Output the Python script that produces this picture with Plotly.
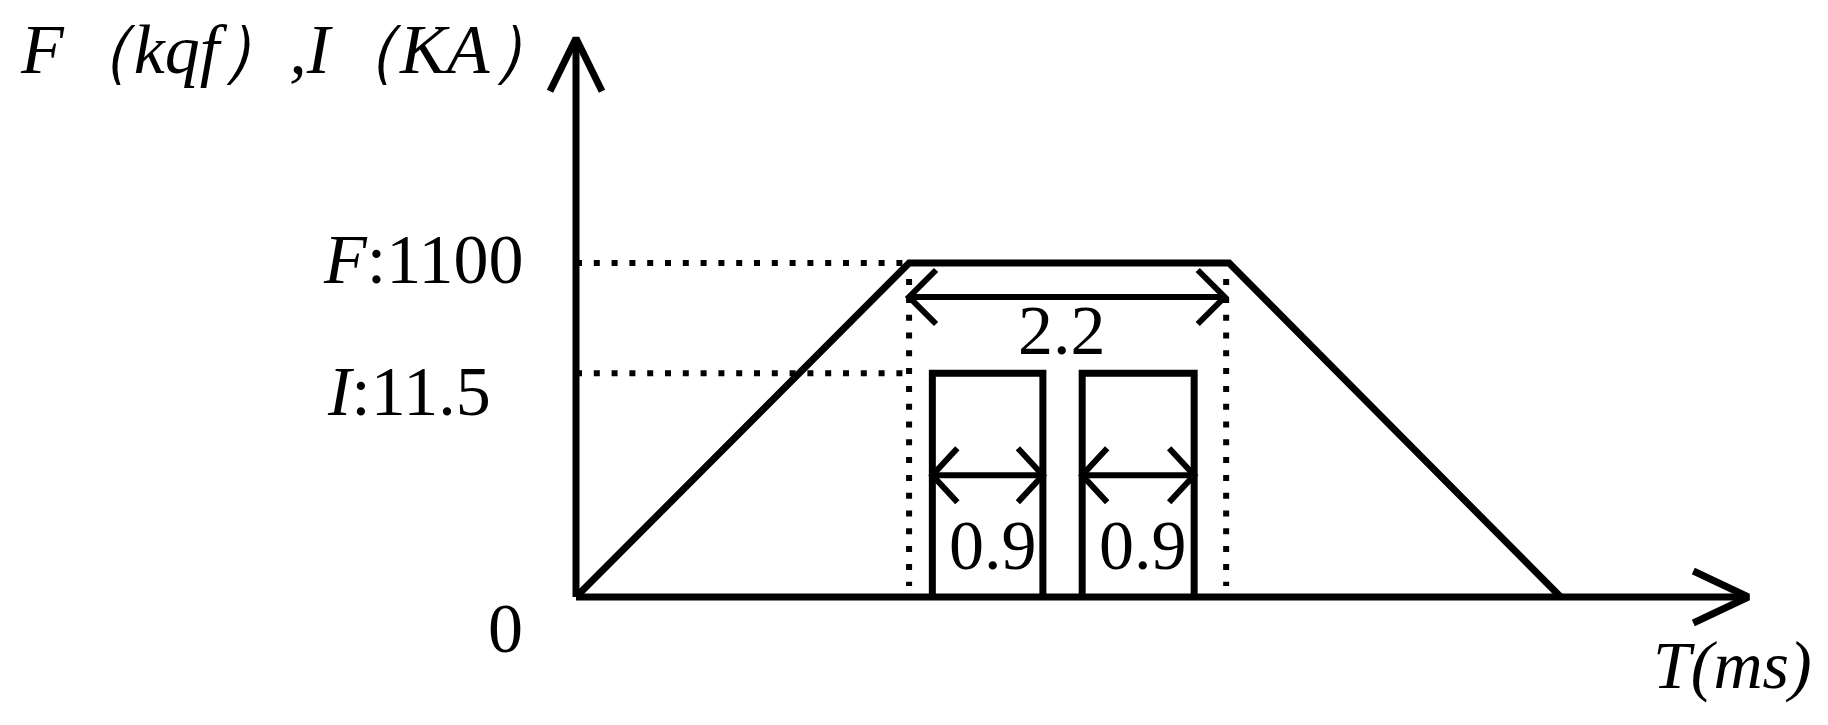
import plotly.graph_objects as go

# force profile: time (ms) vs force (kgf)
force_t = [0, 2.29, 4.49, 6.77]
force_kgf = [0, 1100, 1100, 0]

# current pulses (KA)
pulse_start = [2.45, 3.48]
pulse_end = [3.21, 4.25]
pulse_ka = 11.5

# guide / dimension values
f_level = 1100
i_level = 11.5
guide_t = [2.29, 4.47]
guide_f = [1047, 36]
span_t = [2.29, 4.46]
span_f = 988
pulse_dim_ka = 6.26
plateau_text = "2.2"
pulse_text = "0.9"

axis_t_end = 8.06
axis_f_end = 1840

# pixel mapping of the canvas (page has an 8px body margin)
PAGE_W, PAGE_H = 1828, 725
PAD = 8
W, H = PAGE_W - 2 * PAD, PAGE_H - 2 * PAD
X0_PX, Y0_PX = 576 - PAD, 597 - PAD
PX_MS = 145.45
PX_KGF = 0.30364
PX_KA = 19.452

FONT = "Liberation Serif"
BLACK = "#000000"


def head_h(xt, yt, direction, back, lat, px_y):
    xb = xt - direction * back / PX_MS
    return [xb, xt, xb, None], [yt + lat / px_y, yt, yt - lat / px_y, None]


fig = go.Figure()

# axes with open arrowheads
ax_x = [0, axis_t_end, None]
ax_y = [0, 0, None]
hx, hy = head_h(axis_t_end, 0, 1, 55, 26, PX_KGF)
ax_x += hx
ax_y += hy
ax_x += [0, 0, None, -26 / PX_MS, 0, 26 / PX_MS]
ax_y += [0, axis_f_end, None, axis_f_end - 53 / PX_KGF, axis_f_end, axis_f_end - 53 / PX_KGF]
fig.add_trace(go.Scatter(x=ax_x, y=ax_y, mode="lines",
                         line=dict(color=BLACK, width=7)))

# force trapezoid
fig.add_trace(go.Scatter(x=force_t, y=force_kgf, mode="lines",
                         line=dict(color=BLACK, width=7)))

# current pulses on the second axis
px, py = [], []
for s, e in zip(pulse_start, pulse_end):
    px += [s, s, e, e, None]
    py += [0, pulse_ka, pulse_ka, 0, None]
fig.add_trace(go.Scatter(x=px, y=py, mode="lines", yaxis="y2",
                         line=dict(color=BLACK, width=7)))

# dotted guides
dot = dict(color=BLACK, width=6, dash="6px,11.8px")
gx = [0, force_t[1], None]
gy = [f_level, f_level, None]
for t in guide_t:
    gx += [t, t, None]
    gy += [guide_f[0], guide_f[1], None]
fig.add_trace(go.Scatter(x=gx, y=gy, mode="lines", line=dot))
fig.add_trace(go.Scatter(x=[0, force_t[1]], y=[i_level, i_level], mode="lines",
                         yaxis="y2", line=dot))

# 2.2 dimension arrow
dx = [span_t[0], span_t[1], None]
dy = [span_f, span_f, None]
for t, d in ((span_t[0], -1), (span_t[1], 1)):
    hx, hy = head_h(t, span_f, d, 27, 27, PX_KGF)
    dx += hx
    dy += hy
fig.add_trace(go.Scatter(x=dx, y=dy, mode="lines",
                         line=dict(color=BLACK, width=6)))

# 0.9 dimension arrows
dx, dy = [], []
for s, e in zip(pulse_start, pulse_end):
    dx += [s, e, None]
    dy += [pulse_dim_ka, pulse_dim_ka, None]
    for t, d in ((s, -1), (e, 1)):
        hx, hy = head_h(t, pulse_dim_ka, d, 25, 27, PX_KA)
        dx += hx
        dy += hy
fig.add_trace(go.Scatter(x=dx, y=dy, mode="lines", yaxis="y2",
                         line=dict(color=BLACK, width=6)))

txt = dict(family=FONT, size=70, color=BLACK)
ann = [
    dict(xref="paper", yref="paper", x=0, y=1, xanchor="left", yanchor="middle",
         xshift=10, yshift=-41, text="<i>F（kqf）,I（KA）</i>",
         font=dict(family=FONT, size=70, color=BLACK)),
    dict(x=0, y=f_level, xanchor="right", yanchor="middle", xshift=-50, yshift=4,
         text="<i>F</i>:1100", font=txt),
    dict(x=0, y=i_level, yref="y2", xanchor="right", yanchor="middle",
         xshift=-83, yshift=-18, text="<i>I</i>:11.5", font=txt),
    dict(x=0, y=0, xanchor="center", yanchor="middle", xshift=-71, yshift=-31,
         text="0", font=txt),
    dict(x=(force_t[1] + force_t[2]) / 2, y=span_f, xanchor="center",
         yanchor="middle", xshift=-7, yshift=-33, text=plateau_text, font=txt),
    dict(x=axis_t_end, y=0, xanchor="center", yanchor="middle", xshift=-16,
         yshift=-68, text="<i>T(ms)</i>", font=dict(family=FONT, size=68, color=BLACK)),
]
for s, e in zip(pulse_start, pulse_end):
    ann.append(dict(x=(s + e) / 2, y=pulse_dim_ka, yref="y2", xanchor="center",
                    yanchor="middle", xshift=5, yshift=-70, text=pulse_text, font=txt))
for a in ann:
    a["showarrow"] = False

fig.update_layout(
    width=W, height=H,
    margin=dict(l=0, r=0, t=0, b=0),
    paper_bgcolor="white", plot_bgcolor="white",
    showlegend=False,
    xaxis=dict(range=[-X0_PX / PX_MS, (W - X0_PX) / PX_MS], visible=False),
    yaxis=dict(range=[-(H - Y0_PX) / PX_KGF, Y0_PX / PX_KGF], visible=False),
    yaxis2=dict(range=[-(H - Y0_PX) / PX_KA, Y0_PX / PX_KA], visible=False,
                overlaying="y"),
    annotations=ann,
)

fig.write_html("out.html")
